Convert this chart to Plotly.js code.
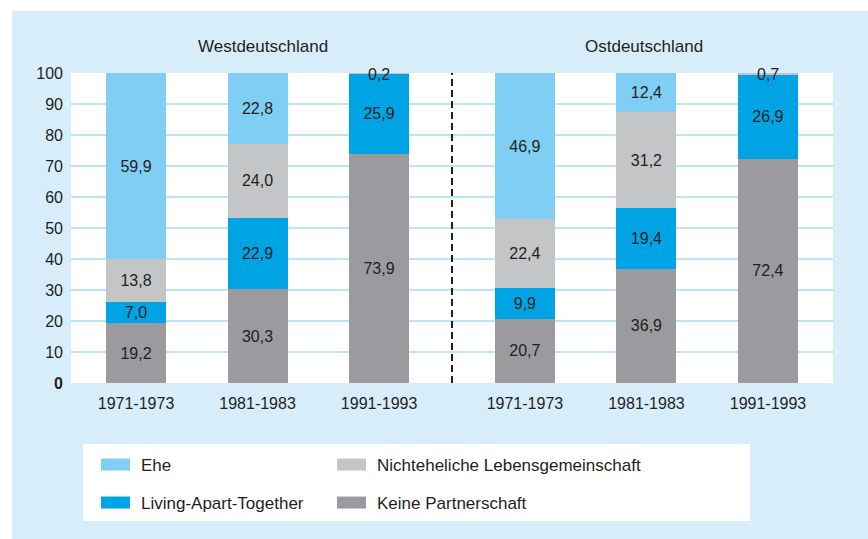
<!DOCTYPE html>
<html>
<head>
<meta charset="utf-8">
<script src="https://cdn.plot.ly/plotly-3.0.1.min.js"></script>
<style>
  html, body { margin: 0; padding: 0; background: #ffffff; }
  #chart { width: 868px; height: 539px; }
</style>
</head>
<body>
<div id="chart"></div>
<script>
// ---- data ----
const categories = ['1971-1973', '1981-1983', '1991-1993', '1971-1973', '1981-1983', '1991-1993'];
const positions = [0, 1, 2, 3.2, 4.2, 5.2];
const regions = ['Westdeutschland', 'Ostdeutschland'];
const regionCenters = [1, 4.2];
const seriesNames = ['Keine Partnerschaft', 'Living-Apart-Together', 'Nichteheliche Lebensgemeinschaft', 'Ehe'];
const keinePartnerschaft = [19.2, 30.3, 73.9, 20.7, 36.9, 72.4];
const livingApartTogether = [7.0, 22.9, 25.9, 9.9, 19.4, 26.9];
const nichtehelicheLG = [13.8, 24.0, 0.2, 22.4, 31.2, 0.7];
const ehe = [59.9, 22.8, null, 46.9, 12.4, null];
const yTickVals = [0, 10, 20, 30, 40, 50, 60, 70, 80, 90, 100];
const yTickText = ['<b>0</b>', '10', '20', '30', '40', '50', '60', '70', '80', '90', '100'];
const gridVals = [10, 20, 30, 40, 50, 60, 70, 80, 90];

// ---- styles ----
const colors = ['#9b9a9f', '#00a4e4', '#c4c5c7', '#80cef3'];
const legendIds = ['legend4', 'legend2', 'legend3', 'legend'];
const FONT = '"Liberation Sans", Arial, sans-serif';
const TXT = '#231f20';
const W = 868, H = 539;
const PL = 71, PR = 833, PT = 73, PB = 383;
const px = X => (X - PL) / (PR - PL);
const py = Y => (PB - Y) / (PB - PT);
const SMALL = 1; // segments thinner than this get their label as an annotation

const fmt = v => (v === null ? '' : v.toFixed(1).replace('.', ','));
const seriesValues = [keinePartnerschaft, livingApartTogether, nichtehelicheLG, ehe];

const traces = seriesValues.map((vals, i) => ({
  type: 'bar',
  name: seriesNames[i],
  x: positions,
  y: vals,
  width: 0.494,
  marker: { color: colors[i], line: { width: 0 } },
  text: vals.map(v => (v !== null && v < SMALL) ? '' : fmt(v)),
  textposition: 'inside',
  insidetextanchor: 'middle',
  constraintext: 'none',
  textangle: 0,
  cliponaxis: false,
  insidetextfont: { family: FONT, size: 16, color: TXT },
  legend: legendIds[i],
  hoverinfo: 'skip'
}));

// labels for very thin segments (drawn across the segment, like the reference)
const smallLabels = [];
seriesValues.forEach((vals, s) => {
  vals.forEach((v, i) => {
    if (v !== null && v < SMALL) {
      let top = 0;
      for (let k = 0; k <= s; k++) top += (seriesValues[k][i] || 0);
      top = Math.round(top * 10) / 10;
      smallLabels.push({
        text: fmt(v), xref: 'x', yref: 'y', x: positions[i], y: top - 0.5,
        yanchor: 'middle', xanchor: 'center', showarrow: false,
        font: { family: FONT, size: 16, color: TXT }
      });
    }
  });
});

const legendPos = {
  legend:  { x: 101 / W, y: 1 - 447 / H },
  legend2: { x: 101 / W, y: 1 - 485 / H },
  legend3: { x: 337 / W, y: 1 - 447 / H },
  legend4: { x: 337 / W, y: 1 - 485 / H }
};

const layout = {
  width: W, height: H,
  margin: { l: PL, r: W - PR, t: PT, b: H - PB, pad: 0, autoexpand: false },
  paper_bgcolor: '#d7eefa',
  plot_bgcolor: '#ffffff',
  barmode: 'stack',
  showlegend: true,
  font: { family: FONT, color: TXT, size: 16 },
  xaxis: {
    range: [-0.535, 5.735],
    tickmode: 'array',
    tickvals: positions,
    ticktext: categories,
    tickangle: 0,
    showgrid: false, zeroline: false, showline: false,
    ticks: '', ticklabelstandoff: 9,
    tickfont: { family: FONT, size: 16, color: TXT },
    fixedrange: true, automargin: false
  },
  yaxis: {
    range: [0, 100],
    tickmode: 'array',
    tickvals: yTickVals,
    ticktext: yTickText,
    showgrid: false, zeroline: false, showline: false,
    ticks: '', ticklabelstandoff: 7,
    tickfont: { family: FONT, size: 16, color: TXT },
    minor: { tickmode: 'array', tickvals: gridVals, showgrid: true, gridcolor: '#bee4f6', gridwidth: 2, ticks: '' },
    fixedrange: true, automargin: false
  },
  shapes: [
    // white outer margins
    { type: 'rect', xref: 'paper', yref: 'paper', x0: px(-5), x1: px(12), y0: py(-5), y1: py(H + 5), fillcolor: '#ffffff', line: { width: 0 }, layer: 'below' },
    { type: 'rect', xref: 'paper', yref: 'paper', x0: px(-5), x1: px(W + 5), y0: py(11), y1: py(-5), fillcolor: '#ffffff', line: { width: 0 }, layer: 'below' },
    // legend box
    { type: 'rect', xref: 'paper', yref: 'paper', x0: px(83), x1: px(750), y0: py(521), y1: py(444), fillcolor: '#ffffff', line: { width: 0 }, layer: 'below' },
    // divider between regions
    { type: 'line', xref: 'x', yref: 'y', x0: (positions[2] + positions[3]) / 2, x1: (positions[2] + positions[3]) / 2, y0: 0, y1: 100, line: { color: '#231f20', width: 2, dash: '7px,4px' }, layer: 'above' }
  ],
  annotations: regions.map((r, i) => ({
    text: r, xref: 'x', yref: 'paper', x: regionCenters[i], xshift: i === 0 ? 5 : -2,
    y: py(47), yanchor: 'middle', xanchor: 'center', showarrow: false,
    font: { family: FONT, size: 17, color: TXT }
  })).concat(smallLabels)
};

Object.keys(legendPos).forEach(k => {
  layout[k] = {
    xref: 'container', yref: 'container',
    x: legendPos[k].x, y: legendPos[k].y, xanchor: 'left', yanchor: 'top',
    bgcolor: 'rgba(0,0,0,0)', borderwidth: 0,
    font: { family: FONT, size: 17, color: TXT },
    orientation: 'v'
  };
});

Plotly.newPlot('chart', traces, layout, { displayModeBar: false, staticPlot: true }).then(gd => {
  gd.querySelectorAll('.legendpoints path').forEach(p => p.setAttribute('d', 'M9,6H-21V-6H9Z'));
});
</script>
</body>
</html>
